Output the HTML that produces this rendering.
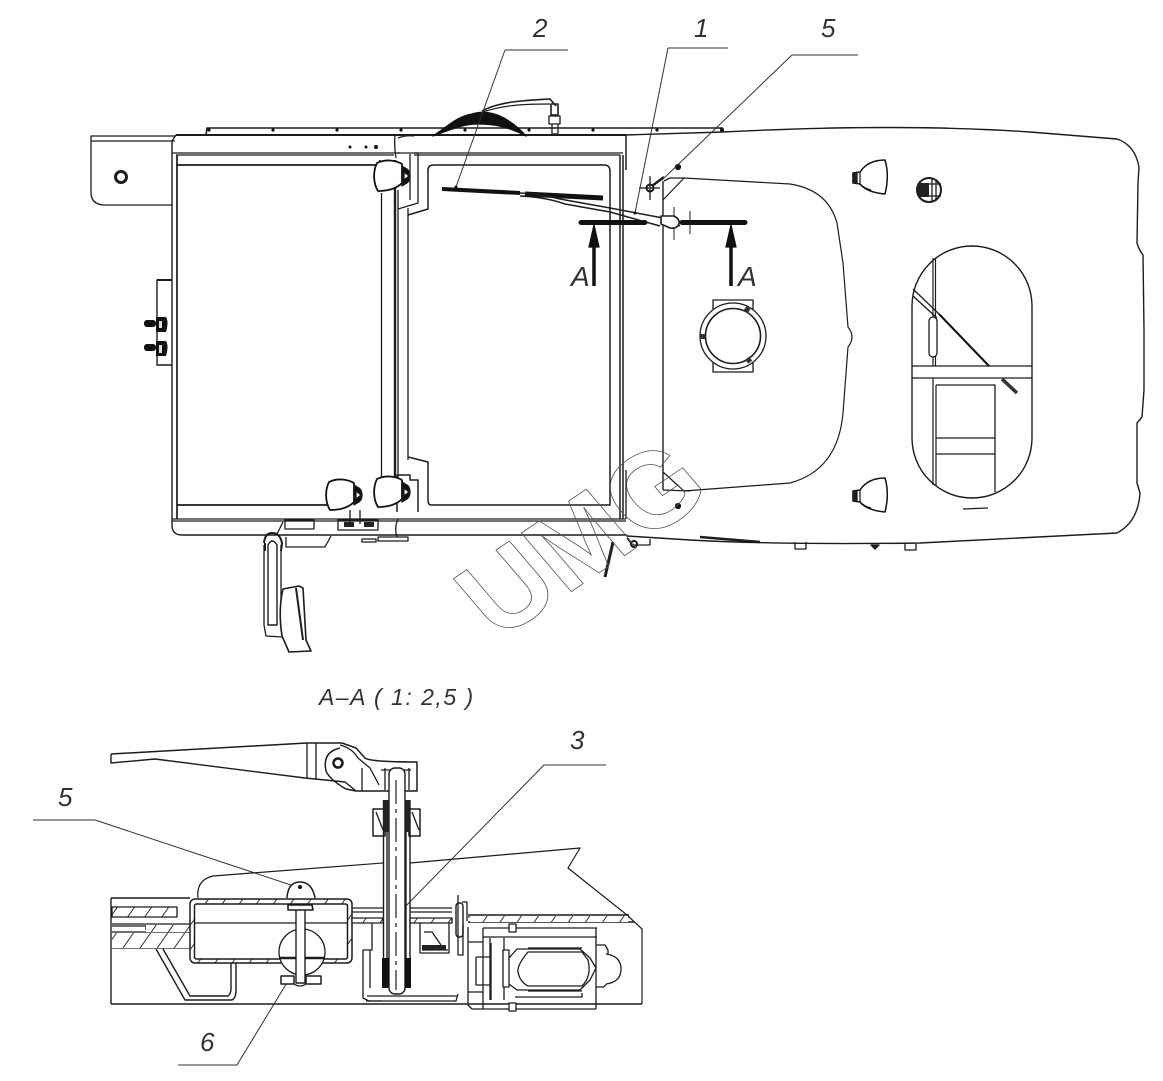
<!DOCTYPE html>
<html><head><meta charset="utf-8"><style>
html,body{margin:0;padding:0;background:#fff}
svg{display:block}
text{font-family:"Liberation Sans",sans-serif;font-style:italic;fill:#333}
</style></head><body>
<svg width="1163" height="1081" viewBox="0 0 1163 1081" xmlns="http://www.w3.org/2000/svg">
<defs>
<pattern id="h" width="14" height="14" patternUnits="userSpaceOnUse" patternTransform="rotate(35)"><rect width="14" height="14" fill="#fff"/><line x1="0" y1="0" x2="0" y2="14" stroke="#333" stroke-width="2"/></pattern>
<g id="mir"><path d="M0,2 C8,-2 18,-1 25,3 L25,14 L25,22 C18,29 8,30 1,30 C-4,22 -4,10 0,2Z" fill="#fff" stroke="#111" stroke-width="1.8"/><path d="M25,5 L30,8 C34,11 34,19 30,22 L25,25Z" fill="#111"/><path d="M27,11 L32,15 L27,19Z" fill="#fff"/></g>
<g id="lamp"><path d="M0,0 C-10,0 -19,3 -25,12 L-32,13 L-32,23 L-25,24 C-20,30 -12,33 0,34 C3,22 3,10 0,0Z" fill="#fff" stroke="#111" stroke-width="1.5"/><path d="M-25,24 C-22,27 -18,29 -14,30 M-25,12 L-25,24" fill="none" stroke="#111" stroke-width="1.2"/><rect x="-32" y="13" width="4" height="10" fill="#222"/></g>
</defs>
<g fill="none" stroke="#1c1c1c" stroke-width="1.3" stroke-linejoin="round">
<!-- left bracket -->
<path d="M175,136 H91 V194 Q92,204 103,205 H172"/><path d="M91,141 H175"/>
<circle cx="121" cy="177" r="5.5" stroke-width="3"/>
<!-- cab frame -->
<path d="M172,141 L176,135 H626 V170"/><path d="M172,141 V525 Q172,535 182,535 H627" stroke-width="1.4"/>
<path d="M206,135 L207,128 H723" stroke-width="1.6"/>
<path d="M176,135 H626" stroke-width="2"/>
<path d="M172,153 H400 M176,155 H394 M414,155 H620" stroke-width="1.3"/><path d="M414,153 H623" />
<path d="M176,165 H380 V160 M177,165 V505 H330 M177,155 V519" stroke-width="1.7"/>
<path d="M172,519 H626 M172,521 H626" stroke-width="1.2"/>
<path d="M381.5,193 V490 M398,190 V490 M408,208 V460" stroke-width="1.3"/>
<path d="M395,160 V490" stroke-width="2.4"/>
<path d="M395,135 Q394,146 396,158 M398,138 Q406,135 414,136"/>
<path d="M397,153 H418 V203 L398,209 M410,154 V200"/>
<!-- right window -->
<path d="M408,215 L428,209 V170 Q428,165 434,165 H604 Q610,165 610,171 V505 H431 Q428,505 428,500 V462 L408,457" stroke-width="1.5"/>
<path d="M397,512 V475 H410 V480 H418 V512 M620,155 V519 M623,155 V519" stroke-width="1.5"/>
<path d="M626,135 V170 M626,519 V470" />
<path d="M663,181 V490" stroke-width="1.4"/>
<path d="M624,135 L723,132 Q900,123 1030,132 L1117,139 Q1135,145 1139,167 L1138,183 L1137,243 Q1139,250 1143,255 L1144,330 V390 L1142,417 L1137,423 V483 L1140,493 Q1138,522 1117,533 L920,543 Q780,545 690,540 L627,536" stroke-width="1.4"/>
<!-- roof cutout -->
<path d="M663,200 L684,178 L790,184 Q828,190 837,223 L843,263 L848,327 Q856,337 848,347 L843,413 Q838,470 790,483 L684,491 L663,472" stroke-width="1.2"/>
<path d="M664,181 L670,178 H684"/>
<path d="M663,490 L690,491"/>
<circle cx="678" cy="167" r="2.5" fill="#111"/><circle cx="678" cy="506" r="2.5" fill="#111"/>
<circle cx="650" cy="188" r="3.5" stroke-width="2"/><path d="M650,176 V200 M639,188 H660"/><path d="M652,186 L664,177" stroke-width="2.5"/>
<!-- bolts -->
<g fill="#111" stroke="none"><circle cx="209" cy="130" r="1.6"/><circle cx="273" cy="130" r="1.6"/><circle cx="337" cy="130" r="1.6"/><circle cx="401" cy="130" r="1.6"/><circle cx="465" cy="130" r="1.6"/><circle cx="529" cy="130" r="1.6"/><circle cx="593" cy="130" r="1.6"/><circle cx="657" cy="130" r="1.6"/><circle cx="722" cy="130" r="2"/><circle cx="350" cy="147" r="1.5"/><circle cx="366" cy="147" r="1.5"/><circle cx="376" cy="147" r="2"/></g>
<!-- hose -->
<path d="M433,136 C448,126 458,116 472,114 C490,108 510,118 526,136 C505,125 490,124 478,124 C462,124 450,130 433,136Z" fill="#111" stroke="#111"/>
<path d="M482,111 C500,101 530,100 550,99 L556,106" stroke-width="1.6"/><path d="M480,113 C505,104 530,104 550,104" stroke-width="1.2"/>
<rect x="551" y="104" width="7" height="11" stroke-width="1.6"/><rect x="549" y="116" width="11" height="8"/><path d="M552,124 V134 H558 V124 M547,135 H561"/>
<!-- plate knobs -->
<path d="M172,280 H157 V365 H172" stroke-width="1.4"/><path d="M157,280 H172" stroke-width="2"/>
<g fill="#111" stroke="none"><rect x="144" y="320" width="12" height="7" rx="3"/><path d="M156,317 h10 q3,5 0,15 h-10Z"/><rect x="144" y="344" width="12" height="7" rx="3"/><path d="M156,341 h10 q3,5 0,15 h-10Z"/></g>
<path d="M159,321 h3 v7 h-3Z M159,345 h3 v8 h-3Z" fill="#ddd" stroke="none"/>
<!-- section bars -->
<g stroke="#111"><path d="M581,222.5 H645 M682,222.5 H745" stroke-width="5" stroke-linecap="round"/><path d="M594,286 V235 M731,286 V235" stroke-width="3.5"/></g>
<path d="M594,225 L589,247 H599Z M731,225 L726,247 H736Z" fill="#111" stroke="#111"/>
<path d="M674,207 V240 M690,211 V234" stroke-width="1"/>
<!-- wiper -->
<path d="M442,189 L520,193" stroke="#111" stroke-width="4"/>
<path d="M525,194 L603,198" stroke="#111" stroke-width="5"/>
<path d="M520,193 Q540,194 560,199 L610,208 L663,218 L680,226" stroke-width="1.5"/>
<path d="M520,196 Q545,197 565,204 L610,212 L660,226" stroke-width="1.5"/>
<path d="M661,216 H674 Q680,219 679,224 Q677,229 670,228 L661,224Z" fill="#fff" stroke-width="1.6"/>
<!-- round hatch -->
<rect x="713" y="300" width="40" height="72"/>
<circle cx="733" cy="336" r="33" fill="#fff" stroke-width="1.3"/><circle cx="733" cy="336" r="27.5" stroke-width="1.6"/>
<g fill="#333" stroke="none"><rect x="745" y="307" width="5" height="5" transform="rotate(35 747 309)"/><rect x="700" y="334" width="5" height="5"/><rect x="746" y="358" width="5" height="5" transform="rotate(-35 748 360)"/></g>
<!-- lamps -->
<use href="#lamp" x="885" y="160"/><use href="#lamp" x="885" y="478"/>
<circle cx="929" cy="190" r="12"  fill="#fff" stroke-width="2"/>
<path d="M918,183 h11 v14 h-11Z" fill="#222" stroke="none"/><path d="M932,179 V201 M936,179 V201 M929,184 H941 M929,196 H941"/>
<!-- stadium -->
<rect x="912" y="246" width="120" height="252" rx="60" ry="60" fill="#fff" stroke-width="1.4"/>
<path d="M933,258 V366 M935.5,258 V366 M933,378 V485 M936,385 V486" stroke-width="1.2"/>
<path d="M912,366 H1032 M912,378 H1032" stroke-width="1.3"/>
<path d="M936,385 H995 V492 M936,438 H995 M936,454 H995" stroke-width="1.3"/>
<path d="M913,289 L939,314 M913,296 L937,318" /><path d="M939,314 L989,366" stroke="#111" stroke-width="2"/><path d="M1002,379 L1017,393" stroke="#333" stroke-width="3.5"/>
<rect x="929" y="317" width="8" height="40" rx="4" fill="#fff"/>
<path d="M963,509 L988,508" />
<!-- mirrors on door -->
<use href="#mir" x="377" y="161"/><use href="#mir" x="377" y="477"/><use href="#mir" x="329" y="480"/>
<path d="M350,510 V524 M360,510 V524 M338,520 H378 V530 H338Z"/><rect x="344" y="522" width="10" height="5" fill="#222" stroke="none"/><rect x="364" y="522" width="10" height="5" fill="#222" stroke="none"/>
<path d="M398,519 Q394,528 397,537 M378,537 H408 V541 H378Z M362,539 H376 V542 H362Z"/>
<!-- lever -->
<path d="M285,520 H314 V529 H285Z M283,522 L277,534"/><path d="M286,537 V547 H325 L331,536" />
<path d="M264,543 Q265,533 272,533 Q280,533 282,543 L281,551 M265,543 L265,551" stroke-width="2"/>
<path d="M268,545 Q272,537 277,545 V625 H268Z" fill="#fff" stroke-width="1.4"/>
<path d="M264,545 V625 M281,545 V628 M264,625 L266,636 L282,637"/>
<path d="M283,589 L299,586 L303,588 L306,640 L311,651 L289,652 L282,636 Q278,610 283,589Z" fill="#fff" stroke-width="1.6"/><path d="M296,588 L303,640" stroke-width="2"/>
<path d="M613,542 L605,577" stroke="#222" stroke-width="3"/>
<path d="M627,538 L632,545 H650 V539"/><circle cx="634" cy="544" r="3" stroke-width="2"/>
<path d="M795,542 V549 H806 V542 M905,544 V550 H916 V544" /><path d="M871,545 h8 l-4,4Z" fill="#222"/>
<path d="M700,537 L760,542" stroke-width="2.5"/>
<!-- leaders -->
<g stroke="#333" stroke-width="1"><path d="M568,50 H505 L456,187"/><path d="M728,48 H668 L635,213"/><path d="M858,55 H792 L662,180"/><path d="M606,765 H544 L398,914"/><path d="M33,820 H95 L300,888"/><path d="M178,1065 H237 L288,981"/></g>
<g fill="#111" stroke="none"><circle cx="456" cy="187" r="1.5"/><circle cx="635" cy="213" r="1.5"/><circle cx="398" cy="914" r="2"/><circle cx="300" cy="888" r="2"/><circle cx="288" cy="981" r="2"/></g>
<!-- LOWER SECTION -->
<path d="M111,754 L307,743 H342 L356,748 L365,758 Q370,762 417,762 V791 H356 L346,789 Q330,780 326,771 Q322,752 340,748" stroke-width="1.5"/>
<path d="M111,754 V763 L155,759 L305,778 L345,782 L356,791" stroke-width="1.4"/>
<path d="M307,743 V778 M316,743 V779 M340,745 Q352,748 358,758 L370,768 L379,785 M362,768 V791"/>
<circle cx="338" cy="763" r="4.5" stroke-width="2.5"/>
<path d="M385,768 V790 M409,768 V790 M381,770 H411" />
<rect x="389" y="768" width="16" height="226" rx="6" fill="#fff" stroke-width="1.4"/>
<path d="M396,780 V990" stroke-dasharray="24 5 4 5" stroke-width="1.2"/>
<path d="M383.5,800 V975 M387,806 V975 M406,806 V975 M410,800 V975" stroke-width="1.4"/>
<rect x="373" y="809" width="12" height="27" stroke-width="1.5"/><rect x="409" y="809" width="11" height="27" stroke-width="1.5"/>
<path d="M376,812 L383,830 M412,812 L419,830" /><path d="M383,800 h6 v32 h-6Z M405,800 h5 v32 h-5Z" fill="#222" stroke="none"/>
<rect x="382" y="958" width="7" height="30" fill="#111" stroke="none"/><rect x="405" y="958" width="6" height="30" fill="#111" stroke="none"/>
<path d="M198,898 Q196,880 213,876 L383,863 M410,863 L580,848 L568,868 L627,915 L642,929 V1004" stroke-width="1.2"/>
<path d="M111,1004 H642" stroke-width="1.4"/><path d="M111,898 V1004 M111,898 H190" stroke-width="1.4"/>
<rect x="112" y="907" width="65" height="10" fill="url(#h)"/>
<path d="M112,924 H190 M112,926 H146 V930 M112,932 H190 M112,948 H190" />
<rect x="112" y="933" width="78" height="15" fill="url(#h)" stroke="none"/><rect x="146" y="925" width="44" height="7" fill="url(#h)" stroke="none"/>
<path d="M156,949 L185,1000 H232 Q236,998 236,990 V963 M163,949 L190,996 H228 Q231,994 231,988 V963" stroke-width="1.4"/>
<rect x="190" y="899" width="162" height="64" rx="5" fill="url(#h)" stroke-width="1.5"/>
<rect x="194.5" y="904" width="153" height="55" fill="#fff" rx="2" stroke-width="1.5"/>
<path d="M194,923 H348"/>
<path d="M287,898 Q288,882 300,882 Q312,882 315,898" fill="#fff" stroke-width="1.5"/><circle cx="300" cy="887" r="1.5" fill="#111"/>
<circle cx="302" cy="952" r="23" fill="#fff"/>
<path d="M279,958 H325" stroke-width="2.5"/>
<rect x="296" y="905" width="9" height="78" fill="#fff" stroke-width="1.4"/>
<path d="M288,905 H312 L313,910 H288Z" fill="#fff" stroke-width="1.6"/>
<rect x="281" y="976" width="13" height="8" fill="#fff" stroke-width="1.5"/><rect x="306" y="976" width="15" height="8" fill="#fff" stroke-width="1.5"/>
<path d="M294,984 Q300,988 306,984"/>
<path d="M352,908 H383 M352,912 H383 M410,908 H452 M410,912 H452"/>
<rect x="352" y="918" width="31" height="5" fill="url(#h)"/><rect x="410" y="918" width="42" height="5" fill="url(#h)"/>
<path d="M372,923 V950 H363 V998 L369,1001 H382 M370,950 V988 M420,923 V953 H449 V923 M422,950 H448" />
<rect x="422" y="945" width="24" height="5" fill="#222" stroke="none"/><path d="M424,932 H432 L441,945"/>
<path d="M367,996 H457 M366,1001 H456 L458,994"/>
<rect x="456" y="903" width="7" height="34" rx="3" fill="#fff" stroke-width="1.4"/><path d="M458,895 V955 M462,902 H467 V921 M458,937 V955 H463 V925"/>
<path d="M468,915 H629 M468,922 H635" stroke-width="1.5"/><path d="M468,917 H630" stroke-width="1"/><rect x="470" y="916" width="158" height="6" fill="url(#h)" stroke="none"/>
<path d="M468,927 V1005 L472,1009 H596" /><path d="M483,928 V1009 M596,928 V1009 M483,928 H597 M483,937 H597" stroke-width="1.3"/>
<rect x="509" y="924" width="7" height="8" fill="#fff"/>
<rect x="509" y="1003" width="7" height="8" fill="#fff"/>
<path d="M468,942 H483 M468,992 H483 M476,957 H491 M476,957 V985 H491 M490,938 V1000 M491,943 V1000 M504,938 V1000"/>
<rect x="503" y="950" width="6" height="37" fill="#fff"/>
<path d="M509,958 L517,949 L580,949 L590,958 L596,968 L590,980 L580,990 H517 L509,984"/>
<path d="M528,952 Q517,965 518,972 Q520,982 528,986 H582 Q592,976 588,960 L582,952Z" stroke-width="1.3"/>
<path d="M528,948 H582 M528,991 H582" />
<path d="M515,997 H582 V993" /><path d="M596,945 H605 L608,950 V982 L604,987 H596"/>
<path d="M606,954 Q621,956 621,969 Q621,982 606,984" fill="#fff"/>
</g>
<!-- watermark -->
<text transform="matrix(.83 -.56 .65 .76 498 641)" font-size="112" style="font-style:normal;font-weight:bold;font-family:'Liberation Sans',sans-serif;fill:none;stroke:#555;stroke-width:.8">UMG</text>
<!-- labels -->
<g font-size="26">
<text x="533" y="37">2</text><text x="694" y="37">1</text><text x="821" y="37">5</text>
<text x="570" y="749">3</text><text x="58" y="806">5</text><text x="200" y="1051">6</text>
<text x="571" y="286" font-size="28">A</text><text x="738" y="286" font-size="28">A</text>
<text x="319" y="705" letter-spacing="1.5" font-size="23">A–A ( 1: 2,5 )</text>
</g>
</svg>
</body></html>
